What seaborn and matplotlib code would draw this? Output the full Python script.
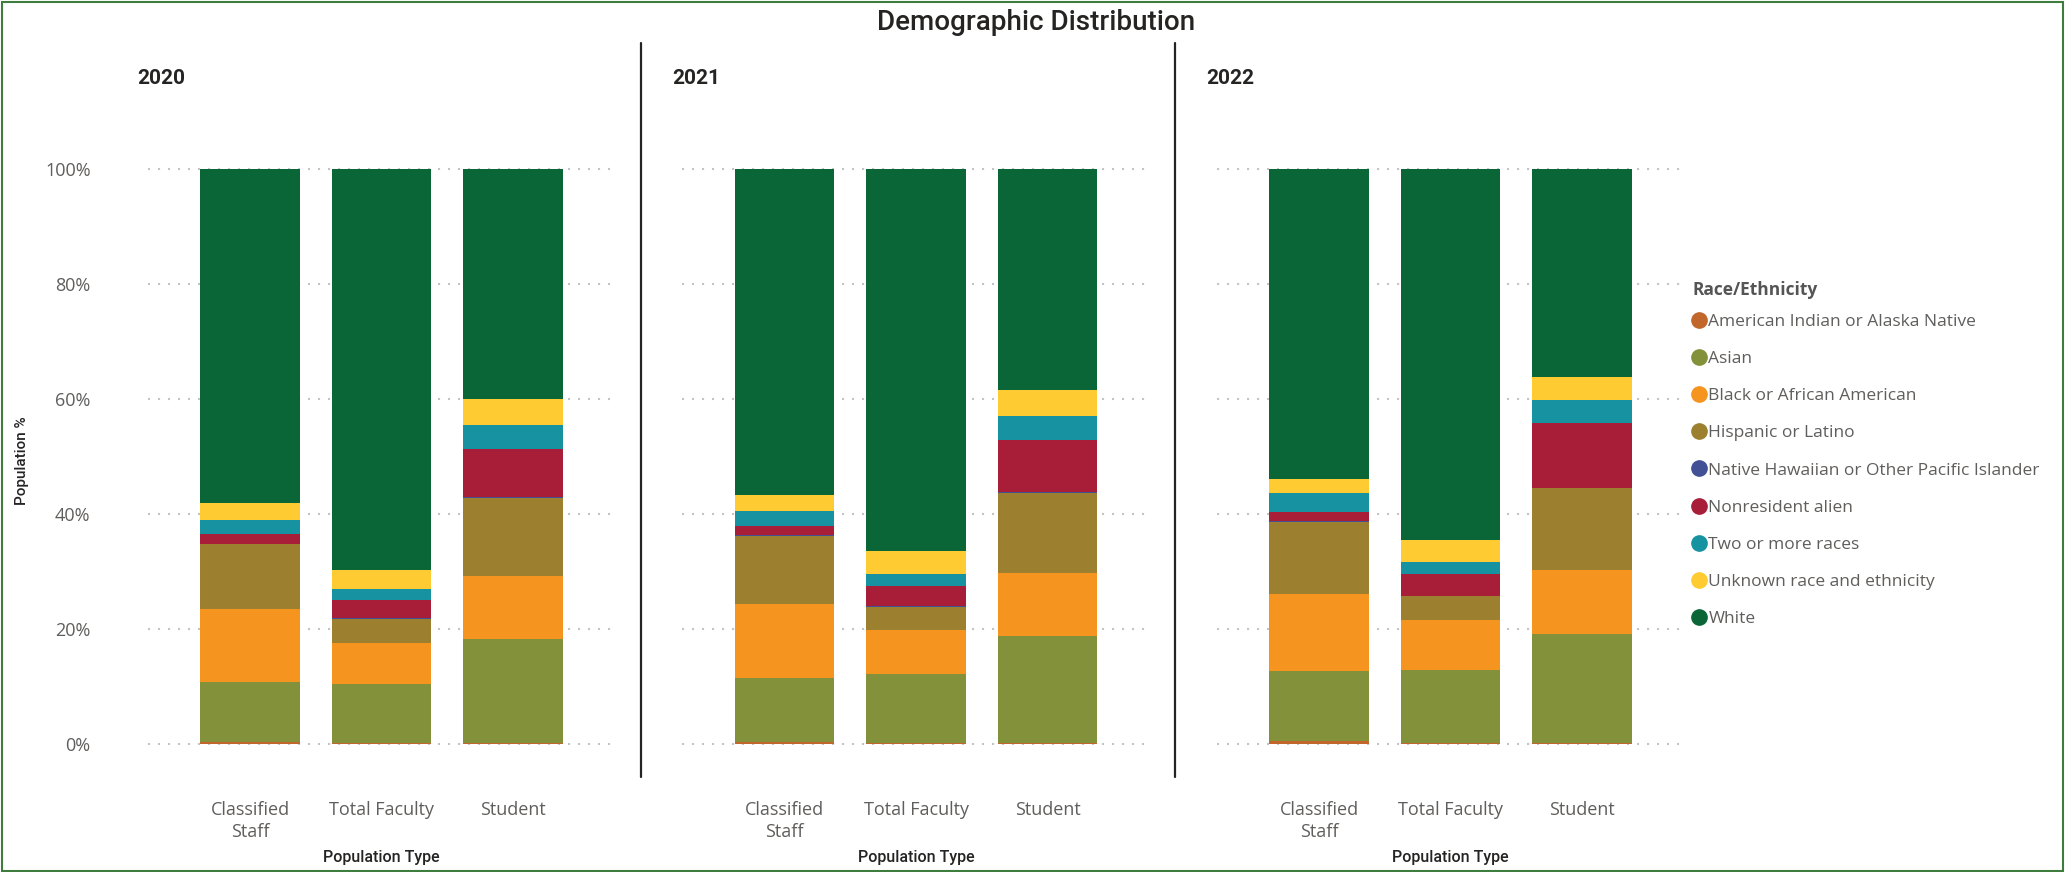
import textwrap
import matplotlib
matplotlib.use("Agg")
import matplotlib.pyplot as plt
from matplotlib.lines import Line2D
from matplotlib.patches import Rectangle
import numpy as np
import pandas as pd
import seaborn as sns

# ---- data (percent of population) ----
years = ["2020", "2021", "2022"]
population_types = ["Classified Staff", "Total Faculty", "Student"]
races = [
    "American Indian or Alaska Native",
    "Asian",
    "Black or African American",
    "Hispanic or Latino",
    "Native Hawaiian or Other Pacific Islander",
    "Nonresident alien",
    "Two or more races",
    "Unknown race and ethnicity",
    "White",
]
race_colors = ["#C1672B", "#82913A", "#F5941F", "#9D802F", "#425096",
               "#A81D38", "#1792A0", "#FECB32", "#0B6637"]

# one value per (year, population type): 2020 CS/TF/ST, 2021 CS/TF/ST, 2022 CS/TF/ST
american_indian = [0.3, 0.2, 0.2, 0.3, 0.2, 0.2, 0.5, 0.2, 0.2]
asian = [10.4, 10.3, 18.1, 11.1, 11.9, 18.6, 12.1, 12.7, 18.85]
black = [12.7, 7.1, 10.9, 12.9, 7.7, 11.0, 13.4, 8.7, 11.2]
hispanic = [11.3, 4.2, 13.6, 11.9, 4.0, 13.9, 12.6, 4.05, 14.2]
pacific_islander = [0.05, 0.15, 0.15, 0.05, 0.1, 0.15, 0.15, 0.15, 0.1]
nonresident = [1.8, 3.1, 8.4, 1.6, 3.6, 8.9, 1.55, 3.8, 11.2]
two_or_more = [2.4, 1.9, 4.05, 2.6, 2.1, 4.2, 3.3, 2.1, 4.0]
unknown = [3.0, 3.3, 4.5, 2.9, 4.0, 4.55, 2.4, 3.8, 4.0]
white = [58.05, 69.75, 40.1, 56.65, 66.4, 38.5, 54.0, 64.5, 36.25]

series = [american_indian, asian, black, hispanic, pacific_islander,
          nonresident, two_or_more, unknown, white]

rows = []
for r, vals in zip(races, series):
    for i, v in enumerate(vals):
        rows.append({"Year": years[i // 3], "Population Type": population_types[i % 3],
                     "Race": r, "Pct": v})
df = pd.DataFrame(rows)
df["Race"] = pd.Categorical(df["Race"], categories=races, ordered=True)
df = df.sort_values(["Year", "Population Type", "Race"])
df["Cum"] = df.groupby(["Year", "Population Type"], observed=True)["Pct"].cumsum()

# ---- styling ----
sns.set_theme(style="white")
plt.rcParams["font.family"] = ["Open Sans", "DejaVu Sans"]

W, H = 2065, 872
fig = plt.figure(figsize=(W / 100, H / 100), dpi=100)
fig.patch.set_facecolor("white")

axes_left_px = [147.5, 682, 1216.5]
axes_w_px = 468
ax_bottom = 1 - 744 / H
ax_height = (744 - 168.6) / H

tick_labels = [textwrap.fill(t, 13) for t in population_types]
year_label_x = [137, 672, 1206]
axis_text = "#605e5c"

for k, year in enumerate(years):
    ax = fig.add_axes([axes_left_px[k] / W, ax_bottom, axes_w_px / W, ax_height])
    sub = df[df["Year"] == year]
    # stacked bars: draw cumulative totals from the top segment down
    for race, color in zip(reversed(races), reversed(race_colors)):
        part = sub[sub["Race"] == race]
        sns.barplot(data=part, x="Population Type", y="Cum", order=population_types,
                    color=color, saturation=1, width=0.76, linewidth=0,
                    errorbar=None, ax=ax)
    ax.set_xlim(-0.78, 2.78)
    ax.set_ylim(0, 100)
    ax.set_yticks(np.arange(0, 101, 20))
    ax.set_axisbelow(True)
    ax.yaxis.grid(True, color="#c4c4c4", linestyle=(0, (1, 3.8)), linewidth=1.5)
    for gl in ax.get_ygridlines():
        gl.set_clip_on(False)
    ax.xaxis.grid(False)
    for s in ax.spines.values():
        s.set_visible(False)
    ax.set_xticks(range(3))
    ax.set_xticklabels(tick_labels, fontsize=13, color=axis_text, linespacing=1.3)
    ax.tick_params(axis="x", length=0, pad=41)
    if k == 0:
        ax.set_yticklabels([f"{v}%" for v in range(0, 101, 20)], fontsize=13, color=axis_text)
        ax.tick_params(axis="y", length=0, pad=41)
    else:
        ax.set_yticklabels([])
        ax.tick_params(axis="y", length=0)
    ax.set_ylabel("")
    ax.set_xlabel("Population Type", fontsize=11.5, fontweight=500, color="#252423",
                  family="Roboto")
    ax.xaxis.set_label_coords(0.5, -(857 - 744) / (744 - 168.6))
    ax.xaxis.label.set_va("center")
    fig.text(year_label_x[k] / W, 1 - 78 / H, year, fontsize=15, fontweight="bold",
             color="#252423", family="Roboto", va="center", ha="left")

fig.text(22 / W, 1 - 461 / H, "Population %", rotation=90, fontsize=11,
         fontweight=500, color="#252423", family="Roboto", va="center", ha="center")

fig.text(1036 / W, 1 - 23 / H, "Demographic Distribution", fontsize=20, fontweight=500,
         color="#252423", family="Roboto", va="center", ha="center")

# panel separators
for xpx in (641, 1175):
    fig.add_artist(Line2D([xpx / W, xpx / W], [1 - 43 / H, 1 - 777 / H],
                          transform=fig.transFigure, color="#252423", linewidth=1.6))

# legend
legend_fs = 12.5
legend_spacing = 1.21
handles = [Line2D([], [], marker="o", linestyle="", markersize=11,
                  markerfacecolor=c, markeredgecolor=c) for c in race_colors]
leg = fig.legend(handles, races, loc="upper left",
                 bbox_to_anchor=(1692 / W, 1 - 281 / H), frameon=False,
                 fontsize=legend_fs, labelcolor=axis_text, handlelength=0.75,
                 handletextpad=0.2, labelspacing=legend_spacing, borderpad=0,
                 borderaxespad=0, title="Race/Ethnicity",
                 title_fontproperties={"weight": "bold", "size": 12.5})
leg.get_title().set_color("#555555")
leg._legend_box.align = "left"
leg._legend_box.sep = legend_spacing * legend_fs - 4.5

# outer frame
fig.add_artist(Rectangle((2 / W, 1 / H), 1 - 4 / W, 1 - 3 / H, transform=fig.transFigure,
                         fill=False, edgecolor="#3E7D3E", linewidth=1.5))

fig.savefig("out.png", dpi=100)
